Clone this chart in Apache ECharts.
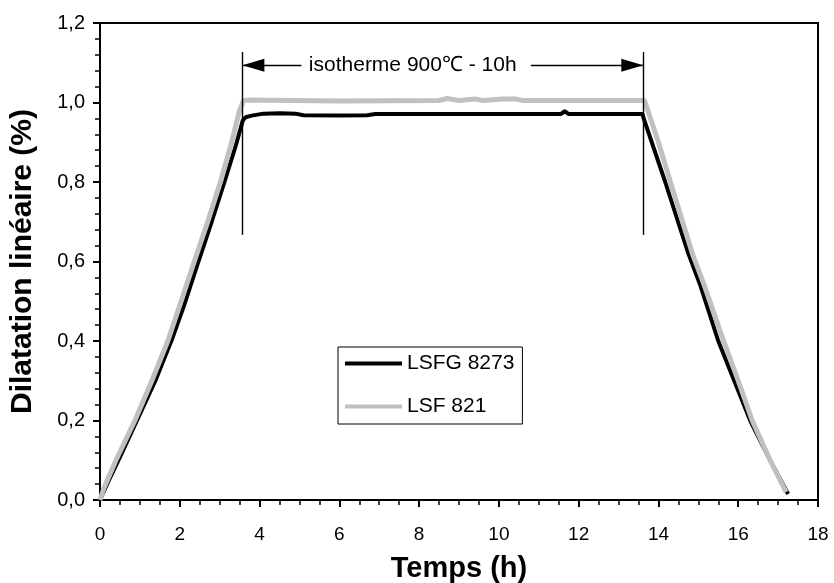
<!DOCTYPE html>
<html><head><meta charset="utf-8">
<script src="https://cdn.jsdelivr.net/npm/echarts@6/dist/echarts.min.js"></script>
<style>html,body{margin:0;padding:0;background:#fff}#c{width:834px;height:583px}</style>
</head><body><div id="c"></div>
<script>
// ---- data ----
const seriesNames = ["LSFG 8273", "LSF 821"];
const lsfg8273 = [
  [0,0],[0.2,0.045],[0.5,0.108],[0.95,0.205],[1.4,0.303],[1.8,0.403],[2.1,0.487],[2.42,0.585],[2.8,0.7],[3.12,0.8],[3.4,0.89],[3.58,0.955],
  [3.65,0.963],[3.8,0.967],[4.1,0.972],[4.5,0.973],[4.9,0.972],[5.1,0.968],[6.0,0.967],[6.7,0.968],[6.9,0.971],[8,0.971],[10,0.971],[11.55,0.971],[11.65,0.978],[11.75,0.971],[13.0,0.971],[13.6,0.971],
  [13.63,0.96],[14.17,0.8],[14.75,0.62],[15.05,0.54],[15.5,0.4],[15.9,0.3],[16.3,0.2],[16.8,0.1],[17.25,0.015]
];
const lsf821 = [
  [0,0],[0.1,0.03],[0.4,0.1],[0.875,0.2],[1.3,0.3],[1.7,0.4],[2.0,0.49],[2.33,0.59],[2.7,0.7],[3.02,0.8],[3.3,0.9],[3.5,0.98],[3.6,1.005],
  [3.7,1.006],[6,1.004],[8.5,1.005],[8.7,1.01],[9.0,1.005],[9.4,1.009],[9.6,1.005],[10.1,1.009],[10.4,1.009],[10.6,1.005],[13.65,1.005],
  [13.7,0.99],[14.0,0.9],[14.3,0.8],[14.85,0.62],[15.15,0.54],[15.6,0.41],[16.0,0.3],[16.35,0.2],[16.8,0.1],[17.2,0.02]
];
const isothermStart = 3.57, isothermEnd = 13.62;
const markerLineY = [0.667, 1.127];
const arrowY = 1.094;
const arrowLeftEnd = 5.05, arrowRightStart = 10.8;
const arrowHeadLen = 0.275; // half head length in hours (triangle centred on end point)
const annotationText = "isotherme 900℃ - 10h";
const annotationX = 7.84;
const xTicks = {min:0, max:18, interval:2};
const yTicks = {min:0, max:1.2, interval:0.2};
const xName = "Temps (h)", yName = "Dilatation linéaire (%)";

const FONT = "Liberation Sans";
const chart = echarts.init(document.getElementById('c'), null, {renderer:'canvas'});
chart.setOption({
  animation:false,
  backgroundColor:'#fff',
  textStyle:{fontFamily:FONT},
  grid:{left:100, right:16, top:23, bottom:83, show:true, borderColor:'#000', borderWidth:2,
        backgroundColor:'transparent', containLabel:false, outerBoundsMode:'none'},
  legend:{
    left:338, top:347, orient:'vertical',
    borderColor:'#000', borderWidth:1, padding:[6,8,7,7], itemGap:22,
    itemWidth:57, itemHeight:4, selectedMode:false,
    backgroundColor:'#fff',
    textStyle:{fontFamily:FONT, fontSize:21, color:'#000'},
    data:[{name:seriesNames[0], icon:'rect'},{name:seriesNames[1], icon:'rect'}]
  },
  xAxis:{
    type:'value', min:xTicks.min, max:xTicks.max, interval:xTicks.interval,
    name:xName, nameLocation:'middle', nameGap:54,
    nameTextStyle:{fontFamily:FONT, fontSize:29, fontWeight:'bold', color:'#000'},
    axisLine:{lineStyle:{color:'#000', width:2}},
    axisTick:{show:true, inside:false, length:7, lineStyle:{color:'#000', width:2}},
    minorTick:{show:true, splitNumber:4, length:5, lineStyle:{color:'#000', width:1.5}},
    splitLine:{show:false},
    axisLabel:{fontFamily:FONT, fontSize:19, color:'#000', margin:25}
  },
  yAxis:{
    type:'value', min:yTicks.min, max:yTicks.max, interval:yTicks.interval,
    name:yName, nameLocation:'middle', nameGap:62,
    nameTextStyle:{fontFamily:FONT, fontSize:30, fontWeight:'bold', color:'#000'},
    axisLine:{show:true, lineStyle:{color:'#000', width:2}},
    axisTick:{show:true, inside:false, length:7, lineStyle:{color:'#000', width:2}},
    minorTick:{show:true, splitNumber:5, length:5, lineStyle:{color:'#000', width:1.5}},
    splitLine:{show:false},
    axisLabel:{fontFamily:FONT, fontSize:20, color:'#000', margin:15,
      formatter:v=>v.toFixed(1).replace('.', ',')}
  },
  series:[
    {
      name:seriesNames[0], type:'line', data:lsfg8273, showSymbol:false, symbol:'none',
      lineStyle:{color:'#000', width:4}, itemStyle:{color:'#000'}, z:2,
      markLine:{
        silent:true, symbol:['none','none'], animation:false,
        lineStyle:{color:'#000', width:1.4, type:'solid'},
        label:{show:false},
        data:[
          [{coord:[isothermStart, markerLineY[0]]},{coord:[isothermStart, markerLineY[1]]}],
          [{coord:[isothermEnd, markerLineY[0]]},{coord:[isothermEnd, markerLineY[1]]}]
        ]
      }
    },
    {
      name:seriesNames[1], type:'line', data:lsf821, showSymbol:false, symbol:'none',
      lineStyle:{color:'#c0c0c0', width:5}, itemStyle:{color:'#c0c0c0'}, z:3
    },
    {
      name:'annotation', type:'line', data:[], z:4,
      markLine:{
        silent:true, animation:false,
        symbol:['none','triangle'], symbolSize:[13,22],
        lineStyle:{color:'#000', width:1.4, type:'solid'},
        itemStyle:{color:'#000'},
        label:{show:false},
        data:[
          [{coord:[arrowLeftEnd, arrowY]},{coord:[isothermStart + arrowHeadLen, arrowY]}],
          [{coord:[arrowRightStart, arrowY]},{coord:[isothermEnd - arrowHeadLen, arrowY]}],
          [{coord:[isothermStart + arrowHeadLen, arrowY], symbol:'none'},{coord:[isothermStart, arrowY], symbol:'none'}],
          [{coord:[isothermEnd - arrowHeadLen, arrowY], symbol:'none'},{coord:[isothermEnd, arrowY], symbol:'none'}]
        ]
      },
      markPoint:{
        silent:true, symbol:'circle', symbolSize:0,
        label:{show:true, position:'inside', fontFamily:FONT, fontSize:21, color:'#000', formatter:annotationText},
        data:[{coord:[annotationX, arrowY]}]
      }
    }
  ]
});
</script></body></html>
